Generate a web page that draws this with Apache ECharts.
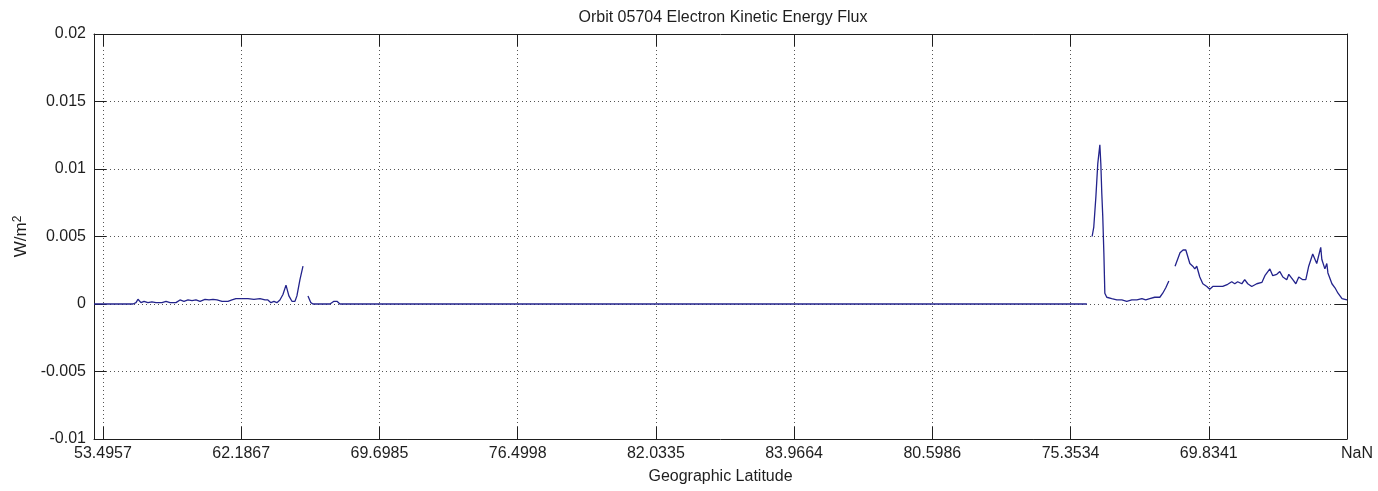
<!DOCTYPE html>
<html>
<head>
<meta charset="utf-8">
<title>Orbit 05704 Electron Kinetic Energy Flux</title>
<script src="https://cdn.jsdelivr.net/npm/echarts@6/dist/echarts.min.js"></script>
<style>
  html, body { margin: 0; padding: 0; background: #fff; }
  #chart { width: 1378px; height: 491px; }
</style>
</head>
<body>
<div id="chart"></div>
<script>
// Sample axis: one tick every 100 samples, labelled with the geographic latitude there.
const tickSamples = [0, 100, 200, 300, 400, 500, 600, 700, 800, 900];
const tickLatitudes = ['53.4957', '62.1867', '69.6985', '76.4998', '82.0335',
                       '83.9664', '80.5986', '75.3534', '69.8341', 'NaN'];

// Electron kinetic energy flux (W/m^2) as [sample, flux]; gaps are missing data.
const passA = [
  [-6.5, 0], [21.7, 0], [23.9, 0.0001], [25.3, 0.00035], [27.5, 0.0001], [29.7, 0.0002],
  [32.5, 0.0001], [35.4, 0.00015], [38.3, 0.0001], [42.7, 0.0001], [45.6, 0.0002],
  [48.5, 0.0001], [52.8, 0.0001], [55.7, 0.0003], [58.6, 0.0002], [61.5, 0.0003],
  [64.4, 0.00025], [67.3, 0.0003], [70.2, 0.0002], [73.8, 0.00035], [76.7, 0.0003],
  [79.6, 0.00035], [82.5, 0.0003], [86.1, 0.0002], [90.4, 0.0002], [93.3, 0.0003],
  [96.2, 0.0004], [100.5, 0.0004], [104.9, 0.0004], [109.2, 0.00035], [113.6, 0.0004],
  [117.2, 0.0003], [119.3, 0.0003], [121.5, 0.0001], [123.7, 0.0002], [125.8, 0.0001],
  [128.0, 0.0003], [130.2, 0.0007], [132.4, 0.0014], [134.5, 0.0006], [136.7, 0.0002],
  [138.9, 0.0002], [140.3, 0.0006], [142.5, 0.0018], [144.7, 0.0028]
];
const passB = [
  [148.3, 0.0006], [150.4, 0.0001], [151.9, 0], [164.2, 0], [167.1, 0.0002],
  [169.3, 0.0002], [171.4, 0], [711.8, 0]
];
const passC = [
  [715.6, 0.0050], [716.8, 0.0057], [718.3, 0.0079], [719.7, 0.0104], [721.2, 0.0118],
  [721.9, 0.0104], [722.6, 0.0082], [723.3, 0.0065], [724.1, 0.0038], [724.8, 0.0008],
  [726.2, 0.0005], [729.8, 0.0004], [733.5, 0.0003], [737.1, 0.0003], [740.7, 0.0002],
  [744.3, 0.0003], [748.0, 0.0003], [751.6, 0.0004], [754.4, 0.0003], [757.3, 0.0004],
  [760.9, 0.0005], [764.6, 0.0005], [766.7, 0.0008], [768.9, 0.0012], [771.1, 0.0017]
];
const passD = [
  [775.6, 0.0028], [779.2, 0.0038], [781.4, 0.0040], [783.4, 0.0040], [786.3, 0.0030],
  [788.4, 0.0028], [789.9, 0.0026], [791.3, 0.0028], [793.5, 0.0020], [795.7, 0.0015],
  [798.6, 0.0013], [800.7, 0.0011], [802.9, 0.0013], [806.5, 0.0013], [810.1, 0.0013],
  [813.7, 0.00146], [816.6, 0.00165], [818.8, 0.0015], [820.9, 0.00165], [823.9, 0.0015],
  [826.0, 0.0018], [828.2, 0.0015], [831.1, 0.0013], [834.7, 0.0015], [838.4, 0.0016],
  [840.6, 0.0021], [844.2, 0.0026], [846.3, 0.0021], [849.2, 0.0022], [851.4, 0.0024],
  [853.6, 0.0020], [856.4, 0.0018], [857.9, 0.0022], [860.8, 0.0018], [863.0, 0.0015],
  [865.1, 0.0020], [868.0, 0.0018], [870.2, 0.0018], [872.3, 0.0028], [875.2, 0.0037],
  [878.1, 0.0030], [881.0, 0.0042], [881.8, 0.0033], [884.0, 0.0026], [885.4, 0.0030],
  [886.2, 0.0023], [889.1, 0.0015], [891.3, 0.0012], [893.5, 0.0008], [896.4, 0.0004],
  [900, 0.0003]
];
const passes = [passA, passB, passC, passD];

const FONT = '"Liberation Sans", Arial, Helvetica, sans-serif';
const INK = '#1e1e1e';
const SAMPLE_MIN = -6.5;
const SAMPLE_MAX = 900;

const gridDots = { show: true, lineStyle: { color: '#555', width: 1, type: [1, 3] } };
const boxLine = { show: true, onZero: false, lineStyle: { color: INK, width: 1 } };
const innerTick = (vals) => ({
  show: true, inside: true, length: 12, customValues: vals,
  lineStyle: { color: INK, width: 1 }
});

const chart = echarts.init(document.getElementById('chart'), null, { renderer: 'canvas' });

chart.setOption({
  animation: false,
  backgroundColor: '#fff',
  title: {
    text: 'Orbit 05704 Electron Kinetic Energy Flux',
    left: 718, top: 5, textAlign: 'center',
    textStyle: { fontFamily: FONT, fontSize: 16, fontWeight: 'normal', color: INK }
  },
  grid: { left: 94, right: 31, top: 34, bottom: 52, containLabel: false },
  xAxis: [
    {
      type: 'value', position: 'bottom', min: SAMPLE_MIN, max: SAMPLE_MAX,
      name: 'Geographic Latitude', nameLocation: 'middle', nameGap: 30,
      nameTextStyle: { fontFamily: FONT, fontSize: 16, color: INK },
      axisLine: boxLine,
      axisTick: innerTick(tickSamples),
      axisLabel: {
        show: true, customValues: tickSamples, margin: 7,
        fontFamily: FONT, fontSize: 16, color: INK,
        formatter: (v) => {
          const i = tickSamples.indexOf(Math.round(v));
          const t = i >= 0 ? tickLatitudes[i] : '';
          return t === 'NaN' ? '{n|NaN}' : t;
        },
        rich: { n: { fontFamily: FONT, fontSize: 16, color: INK, padding: [0, 0, 0, 20] } }
      },
      splitLine: gridDots
    },
    {
      type: 'value', position: 'top', min: SAMPLE_MIN, max: SAMPLE_MAX,
      axisLine: boxLine,
      axisTick: innerTick(tickSamples),
      axisLabel: { show: false },
      splitLine: { show: false }
    }
  ],
  yAxis: [
    {
      type: 'value', position: 'left', min: -0.01, max: 0.02, interval: 0.005,
      name: '{a|W/m}{s|2}', nameLocation: 'middle', nameGap: 60, nameRotate: 90,
      nameTextStyle: {
        fontFamily: FONT, color: INK,
        rich: {
          a: { fontFamily: FONT, fontSize: 17, color: INK },
          s: { fontFamily: FONT, fontSize: 12, color: INK, verticalAlign: 'top', padding: [0, 0, 8, 0] }
        }
      },
      axisLine: boxLine,
      axisTick: { show: true, inside: true, length: 12, lineStyle: { color: INK, width: 1 } },
      axisLabel: { fontFamily: FONT, fontSize: 16, color: INK, margin: 8 },
      splitLine: gridDots
    },
    {
      type: 'value', position: 'right', min: -0.01, max: 0.02, interval: 0.005,
      axisLine: boxLine,
      axisTick: { show: true, inside: true, length: 12, lineStyle: { color: INK, width: 1 } },
      axisLabel: { show: false },
      splitLine: { show: false }
    }
  ],
  series: passes.map((seg) => ({
    type: 'line',
    xAxisIndex: 0, yAxisIndex: 0,
    data: seg,
    showSymbol: false,
    symbol: 'none',
    lineStyle: { color: '#23238c', width: 1.3 },
    silent: true
  }))
});
</script>
</body>
</html>
